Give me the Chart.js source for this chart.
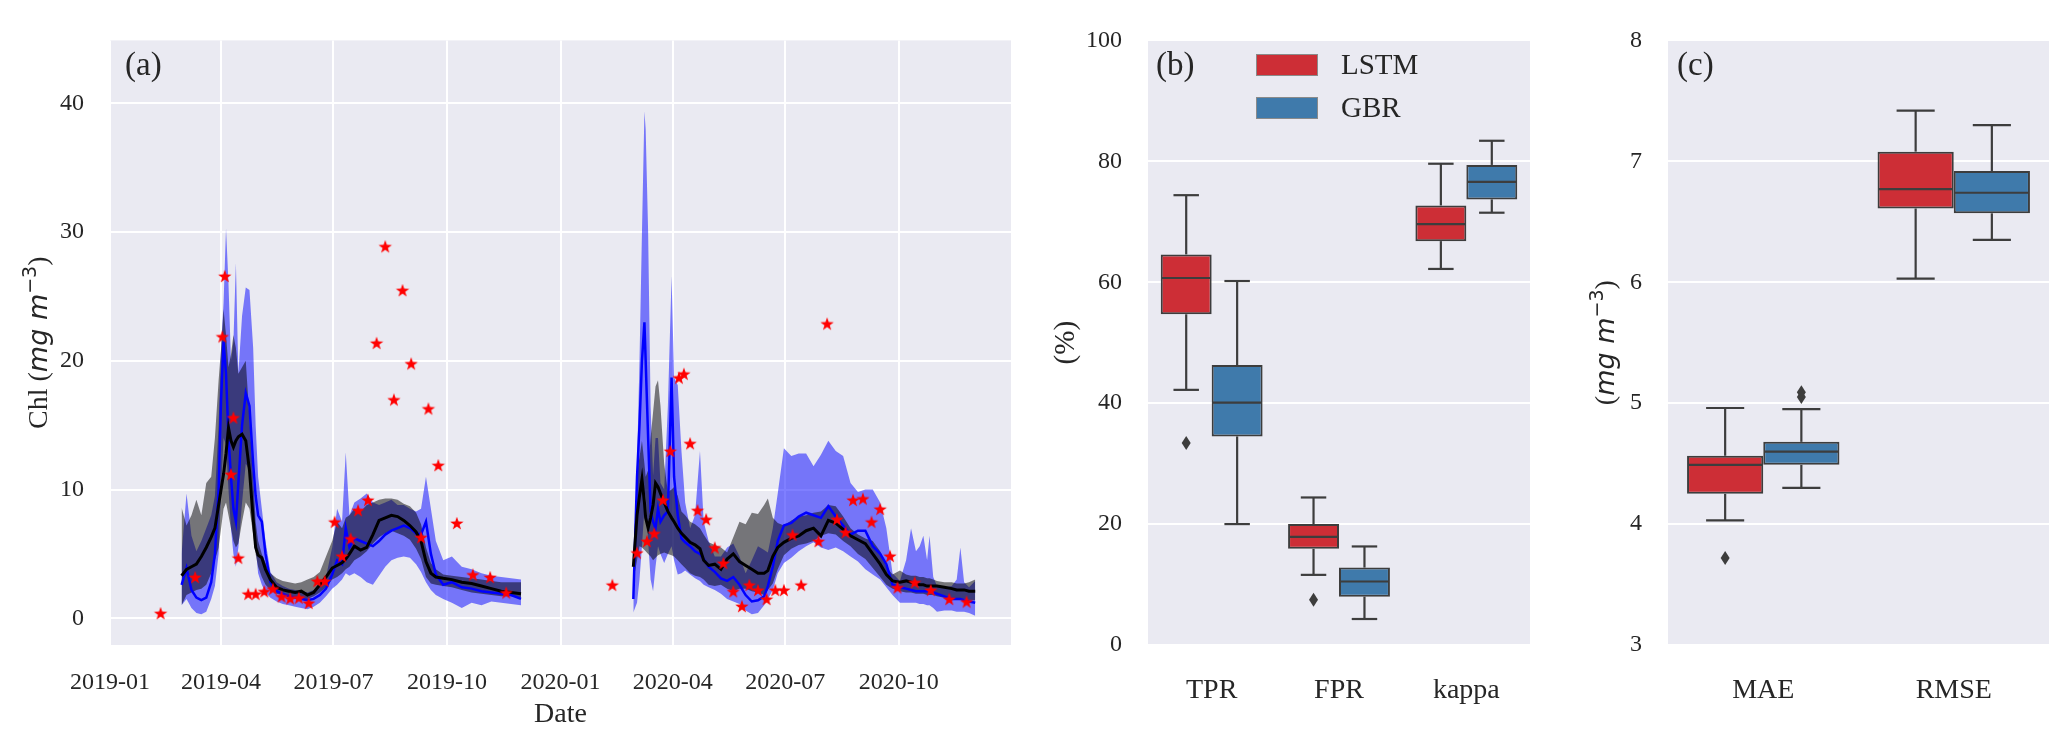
<!DOCTYPE html>
<html>
<head>
<meta charset="utf-8">
<script src="https://cdn.jsdelivr.net/npm/chart.js@4.4.1/dist/chart.umd.min.js"></script>
<style>
  html, body { margin: 0; padding: 0; background: #fff; }
  body { width: 2067px; height: 742px; position: relative; overflow: hidden; }
  canvas { position: absolute; top: 0; }
</style>
</head>
<body>
<canvas id="chl" width="1030" height="742" style="left:0"></canvas>
<canvas id="rate" width="515" height="742" style="left:1030px"></canvas>
<canvas id="err" width="522" height="742" style="left:1545px"></canvas>
<script>
// ---- panel (a): daily Chl, two seasons ----
const xTickLabels = ['2019-01', '2019-04', '2019-07', '2019-10', '2020-01', '2020-04', '2020-07', '2020-10'];
const chlTicks = [0, 10, 20, 30, 40];

const dates2019 = ['2019-02-28', '2019-03-04', '2019-03-08', '2019-03-12', '2019-03-16', '2019-03-20', '2019-03-24',
  '2019-03-27', '2019-03-30', '2019-04-01', '2019-04-03', '2019-04-05', '2019-04-07', '2019-04-09', '2019-04-11',
  '2019-04-13', '2019-04-15', '2019-04-18', '2019-04-21', '2019-04-24', '2019-04-27', '2019-04-29', '2019-05-01',
  '2019-05-04', '2019-05-07', '2019-05-11', '2019-05-16', '2019-05-21', '2019-05-26', '2019-05-31', '2019-06-05',
  '2019-06-10', '2019-06-15', '2019-06-20', '2019-06-25', '2019-06-30', '2019-07-04', '2019-07-08', '2019-07-11',
  '2019-07-14', '2019-07-18', '2019-07-23', '2019-07-28', '2019-08-02', '2019-08-07', '2019-08-12', '2019-08-17',
  '2019-08-22', '2019-08-27', '2019-09-01', '2019-09-06', '2019-09-10', '2019-09-14', '2019-09-18', '2019-09-22',
  '2019-09-28', '2019-10-05', '2019-10-13', '2019-10-21', '2019-10-29', '2019-11-06', '2019-11-14', '2019-11-22',
  '2019-11-30'];
const greyLo2019 = [1.0, 1.8, 2.0, 2.2, 2.3, 2.6, 3.5, 4.5, 5.5, 7.0, 8.5, 9.0, 8.0, 7.0, 6.0, 5.5, 5.8, 7.5, 9.0, 8.5,
  6.5, 5.0, 4.0, 3.2, 2.6, 2.2, 1.9, 1.8, 1.7, 1.6, 1.5, 1.5, 1.7, 2.0, 2.4, 3.0, 3.2, 3.5, 3.8, 4.0, 4.5, 4.8, 5.2,
  5.8, 6.3, 6.6, 6.8, 6.6, 6.4, 6.1, 5.4, 4.6, 3.2, 2.7, 2.6, 2.5, 2.4, 2.2, 2.0, 1.9, 1.8, 1.7, 1.7, 1.6];
const greyHi2019 = [8.6, 7.2, 8.0, 9.2, 8.0, 10.5, 11.0, 14.0, 18.5, 21.0, 24.0, 22.0, 19.5, 20.5, 22.0, 21.0, 19.0,
  19.5, 20.0, 15.5, 11.0, 7.5, 6.0, 5.0, 4.3, 3.5, 3.1, 2.9, 2.8, 2.7, 2.8, 3.0, 3.2, 3.6, 4.8, 6.0, 7.5, 7.0, 7.8,
  8.0, 8.5, 8.3, 8.8, 9.0, 9.2, 9.3, 9.3, 9.2, 8.9, 8.7, 8.2, 7.3, 5.5, 4.3, 3.8, 3.4, 3.3, 3.2, 3.1, 3.0, 2.9, 2.8,
  2.8, 2.8];
const blueLo2019 = [1.0, 1.5, 0.8, 0.4, 0.3, 0.5, 1.5, 2.5, 5.0, 10.0, 14.0, 13.5, 10.0, 7.0, 5.0, 4.0, 5.5, 9.0,
  12.0, 11.5, 8.5, 5.5, 3.5, 2.6, 2.0, 1.6, 1.3, 1.1, 1.0, 0.9, 0.8, 0.7, 0.9, 1.2, 1.7, 2.3, 2.6, 3.0, 3.5, 3.3, 3.5,
  3.2, 2.8, 2.6, 3.3, 4.0, 4.5, 4.7, 4.8, 4.7, 4.2, 3.6, 2.8, 2.2, 1.8, 1.5, 1.2, 0.8, 1.2, 1.0, 1.3, 1.2, 1.1, 1.0];
const blueHi2019 = [5.0, 9.7, 6.4, 5.2, 6.0, 7.0, 8.0, 9.5, 15.0, 21.0, 24.5, 30.3, 26.0, 20.0, 21.5, 27.6, 19.0,
  23.5, 25.7, 25.5, 21.0, 15.0, 11.0, 8.5, 6.0, 3.6, 2.8, 2.5, 2.3, 2.2, 2.1, 2.0, 2.2, 2.6, 3.2, 5.5, 8.5, 7.5, 12.9,
  8.0, 9.0, 9.3, 9.7, 9.0, 8.8, 9.0, 9.2, 8.8, 8.8, 8.5, 8.3, 8.5, 11.0, 8.5, 6.0, 4.5, 4.8, 4.0, 3.8, 3.5, 3.3, 3.2,
  3.1, 3.0];
const blueMean2019 = [2.6, 3.9, 2.2, 1.6, 1.4, 1.6, 2.8, 5.0, 10.0, 17.0, 21.5, 19.0, 14.0, 11.0, 8.5, 7.5, 10.5,
  15.0, 17.5, 16.5, 12.0, 9.5, 8.0, 7.5, 5.0, 2.8, 2.1, 1.9, 1.7, 1.6, 1.5, 1.4, 1.5, 1.8, 2.3, 3.4, 4.5, 4.2, 7.0,
  5.5, 6.2, 6.0, 5.8, 5.6, 6.0, 6.5, 6.8, 7.0, 7.2, 7.0, 6.6, 6.5, 7.5, 5.0, 3.4, 2.6, 2.8, 2.4, 2.3, 2.1, 2.0, 1.9,
  1.8, 1.5];
const blackMean2019 = [3.3, 3.8, 4.0, 4.2, 4.8, 5.5, 6.3, 7.0, 8.8, 10.0, 11.2, 12.8, 14.8, 13.8, 13.3, 13.8, 14.1,
  14.3, 13.8, 11.5, 7.7, 5.5, 4.9, 4.7, 3.8, 3.0, 2.4, 2.2, 2.1, 2.0, 2.1, 1.8, 2.0, 2.6, 3.2, 3.9, 4.1, 4.3, 4.6, 5.0,
  5.6, 5.3, 5.5, 6.5, 7.6, 7.8, 8.0, 7.9, 7.6, 7.2, 6.7, 6.0, 4.4, 3.5, 3.2, 3.1, 3.0, 2.8, 2.7, 2.5, 2.3, 2.1, 2.0,
  1.9];

const dates2020 = ['2020-02-29', '2020-03-03', '2020-03-05', '2020-03-07', '2020-03-09', '2020-03-10', '2020-03-12',
  '2020-03-14', '2020-03-16', '2020-03-18', '2020-03-20', '2020-03-22', '2020-03-25', '2020-03-28', '2020-03-31',
  '2020-04-02', '2020-04-05', '2020-04-08', '2020-04-11', '2020-04-15', '2020-04-19', '2020-04-23', '2020-04-26',
  '2020-04-30', '2020-05-05', '2020-05-10', '2020-05-15', '2020-05-20', '2020-05-25', '2020-05-30', '2020-06-04',
  '2020-06-09', '2020-06-14', '2020-06-17', '2020-06-21', '2020-06-25', '2020-06-30', '2020-07-06', '2020-07-12',
  '2020-07-18', '2020-07-24', '2020-07-30', '2020-08-05', '2020-08-11', '2020-08-17', '2020-08-23', '2020-08-29',
  '2020-09-04', '2020-09-10', '2020-09-16', '2020-09-21', '2020-09-26', '2020-10-02', '2020-10-07', '2020-10-11',
  '2020-10-15', '2020-10-18', '2020-10-21', '2020-10-24', '2020-10-26', '2020-10-29', '2020-11-01', '2020-11-07',
  '2020-11-13', '2020-11-17', '2020-11-20', '2020-11-23', '2020-11-27', '2020-12-02'];
const greyLo2020 = [2.9, 4.5, 5.6, 5.5, 5.3, 5.2, 5.0, 4.8, 4.5, 4.7, 4.9, 5.0, 5.1, 5.0, 4.9, 4.8, 4.5, 4.2, 3.9,
  3.5, 3.3, 3.2, 3.0, 2.6, 2.5, 2.6, 2.3, 2.1, 2.3, 2.3, 2.1, 2.0, 1.8, 2.2, 2.7, 3.8, 4.9, 5.4, 5.7, 5.8, 6.0, 6.4,
  6.6, 6.5, 6.0, 5.6, 5.0, 4.6, 3.9, 3.2, 2.6, 2.3, 2.1, 2.0, 2.0, 1.9, 1.9, 1.9, 1.8, 1.8, 1.8, 1.7, 1.6, 1.5, 1.5,
  1.5, 1.5, 1.4, 1.4];
const greyHi2020 = [4.8, 11.1, 12.5, 13.8, 12.0, 11.0, 11.5, 14.0, 16.0, 18.0, 18.5, 16.5, 12.0, 9.8, 10.0, 10.2, 9.5,
  8.3, 8.0, 7.5, 7.3, 7.0, 6.5, 5.9, 5.7, 5.5, 5.1, 6.3, 7.5, 7.3, 8.2, 8.1, 8.8, 9.3, 7.8, 7.4, 7.2, 7.6, 7.9, 8.0,
  8.2, 8.3, 8.8, 8.7, 7.9, 7.0, 6.5, 6.2, 6.0, 5.2, 4.0, 3.4, 3.7, 3.4, 3.3, 3.3, 3.2, 3.2, 3.1, 3.1, 3.0, 2.9, 2.8,
  2.8, 2.7, 2.7, 2.7, 2.8, 3.0];
const blueLo2020 = [0.45, 1.2, 3.0, 5.6, 8.5, 9.7, 6.0, 3.0, 2.1, 4.0, 5.6, 5.0, 4.3, 5.0, 5.6, 4.5, 3.4, 3.5, 3.7,
  3.4, 3.1, 2.9, 2.6, 2.4, 2.2, 1.9, 1.5, 1.3, 1.1, 0.6, 0.3, 0.4, 1.0, 1.5, 2.2, 3.5, 4.3, 4.7, 5.2, 5.6, 5.9, 5.5,
  5.3, 5.5, 5.2, 4.8, 4.4, 3.8, 3.4, 3.0, 2.4, 1.8, 1.2, 1.2, 1.2, 1.2, 1.1, 1.1, 1.0, 1.0, 0.8, 0.5, 0.6, 0.6, 0.5,
  0.5, 0.5, 0.4, 0.2];
const blueHi2020 = [3.0, 12.0, 20.0, 30.0, 39.4, 38.0, 30.0, 16.5, 11.1, 14.0, 14.0, 10.5, 10.0, 16.5, 26.6, 18.7,
  18.1, 13.0, 9.0, 7.0, 8.0, 13.0, 7.5, 6.0, 4.8, 4.8, 5.5, 5.8, 4.8, 3.5, 4.5, 5.6, 5.3, 5.1, 7.0, 9.7, 13.2, 12.6,
  12.8, 12.8, 11.8, 12.7, 13.8, 13.0, 12.6, 10.5, 9.8, 10.0, 10.0, 9.0, 7.0, 3.5, 2.9, 4.5, 7.0, 5.2, 5.6, 6.4, 4.5,
  6.4, 3.2, 2.5, 2.4, 2.5, 3.0, 5.5, 2.8, 2.4, 2.9];
const blueMean2020 = [1.5, 11.0, 15.0, 20.0, 23.0, 20.0, 14.0, 8.3, 7.5, 7.0, 8.5, 7.5, 8.0, 8.3, 18.7, 11.0, 8.0, 6.2,
  5.9, 5.6, 5.2, 5.0, 4.6, 4.0, 3.6, 3.1, 2.9, 3.2, 2.6, 1.8, 1.3, 1.4, 1.7, 2.5, 4.0, 6.0, 7.2, 7.4, 7.9, 8.2, 8.0,
  7.8, 8.7, 7.9, 7.2, 6.5, 6.8, 6.8, 5.6, 5.0, 4.2, 2.6, 2.4, 2.3, 2.2, 2.1, 2.1, 2.1, 2.1, 2.1, 2.0, 1.9, 1.7, 1.5,
  1.5, 1.5, 1.4, 1.3, 1.2];
const blackMean2020 = [4.0, 8.0, 9.5, 10.8, 9.0, 7.8, 7.0, 7.8, 8.8, 10.5, 10.2, 9.7, 9.0, 8.3, 7.8, 7.5, 7.0, 6.6,
  6.3, 5.9, 5.7, 5.4, 4.5, 4.1, 4.2, 3.8, 4.6, 5.0, 4.4, 4.1, 3.8, 3.5, 3.5, 3.7, 4.8, 5.5, 5.9, 6.2, 6.4, 6.8, 7.0,
  6.4, 7.6, 7.4, 6.9, 6.4, 6.1, 5.8, 5.0, 4.2, 3.4, 2.9, 2.8, 2.9, 2.8, 2.7, 2.6, 2.6, 2.5, 2.5, 2.5, 2.5, 2.4, 2.3,
  2.2, 2.2, 2.2, 2.1, 2.1];

const starDates = ['2019-02-11', '2019-03-11', '2019-04-02', '2019-04-04', '2019-04-09', '2019-04-11', '2019-04-15',
  '2019-04-23', '2019-04-29', '2019-05-06', '2019-05-13', '2019-05-20', '2019-05-27', '2019-06-03', '2019-06-11',
  '2019-06-18', '2019-06-24', '2019-07-02', '2019-07-08', '2019-07-15', '2019-07-21', '2019-07-29', '2019-08-05',
  '2019-08-12', '2019-08-19', '2019-08-26', '2019-09-02', '2019-09-10', '2019-09-16', '2019-09-24', '2019-10-09',
  '2019-10-22', '2019-11-05', '2019-11-18',
  '2020-02-12', '2020-03-03', '2020-03-11', '2020-03-17', '2020-03-24', '2020-03-30', '2020-04-06', '2020-04-10',
  '2020-04-15', '2020-04-21', '2020-04-28', '2020-05-05', '2020-05-12', '2020-05-20', '2020-05-27', '2020-06-02',
  '2020-06-09', '2020-06-16', '2020-06-23', '2020-06-30', '2020-07-07', '2020-07-14', '2020-07-28', '2020-08-04',
  '2020-08-12', '2020-08-19', '2020-08-25', '2020-09-02', '2020-09-09', '2020-09-16', '2020-09-24', '2020-09-30',
  '2020-10-14', '2020-10-27', '2020-11-11', '2020-11-25'];
const starValues = [0.4, 3.2, 21.9, 26.6, 11.2, 15.6, 4.7, 1.9, 1.9, 2.1, 2.3, 1.7, 1.55, 1.6, 1.2, 2.9, 2.9, 7.5, 4.85,
  6.2, 8.4, 9.2, 21.4, 28.9, 17.0, 25.5, 19.8, 6.3, 16.3, 11.9, 7.4, 3.4, 3.2, 2.0,
  2.6, 5.1, 6.0, 6.6, 9.2, 13.0, 18.7, 19.0, 13.6, 8.4, 7.7, 5.5, 4.3, 2.1, 0.95, 2.6, 2.2, 1.5, 2.2, 2.2, 6.5, 2.6,
  6.0, 22.9, 7.7, 6.7, 9.2, 9.3, 7.5, 8.5, 4.85, 2.4, 2.8, 2.2, 1.5, 1.3];

// ---- panels (b) and (c): box stats [low whisker, Q1, median, Q3, high whisker] ----
const rateCats = ['TPR', 'FPR', 'kappa'];
const lstmRate = [[42.2, 54.7, 60.7, 64.6, 74.4], [11.6, 15.9, 17.9, 20.0, 24.4], [62.2, 66.8, 69.6, 72.7, 79.6]];
const gbrRate = [[20.0, 34.5, 40.1, 46.3, 60.2], [4.3, 8.0, 10.5, 12.8, 16.3], [71.5, 73.7, 76.6, 79.4, 83.4]];
const lstmRateOut = [[33.4], [7.5], []];
const gbrRateOut = [[], [], []];

const errCats = ['MAE', 'RMSE'];
const lstmErr = [[4.03, 4.25, 4.49, 4.565, 4.96], [6.03, 6.61, 6.77, 7.08, 7.42]];
const gbrErr = [[4.30, 4.49, 4.60, 4.68, 4.95], [6.35, 6.57, 6.74, 6.92, 7.30]];
const lstmErrOut = [[3.72], []];
const gbrErrOut = [[5.05, 5.09], []];

const SERIF = '"Liberation Serif", "Times New Roman", serif';
const TXT = '#262626';
const EDGE = '#3d3d3d';
const RED = '#cd2e36';
const BLUE = '#3f7aab';
Chart.defaults.font.family = SERIF;
Chart.defaults.color = TXT;

// filled red star marker
const starImg = (() => {
  const c = document.createElement('canvas');
  c.width = 16; c.height = 16;
  const g = c.getContext('2d');
  g.fillStyle = '#ff0000';
  g.beginPath();
  for (let i = 0; i < 10; i++) {
    const r = i % 2 ? 2.8 : 7;
    const a = -Math.PI / 2 + i * Math.PI / 5;
    g.lineTo(8 + r * Math.cos(a), 8.8 + r * Math.sin(a));
  }
  g.closePath();
  g.fill();
  return c;
})();

const panelBg = {
  id: 'panelBg',
  beforeDraw(chart) {
    const { ctx, chartArea: a } = chart;
    ctx.save();
    ctx.fillStyle = '#eaeaf2';
    ctx.fillRect(a.left, a.top, a.right - a.left, a.bottom - a.top);
    ctx.restore();
  }
};

// panel tag, rotated y title (mixed fonts) and optional x title
const panelText = {
  id: 'panelText',
  afterDraw(chart, args, o) {
    const { ctx, chartArea: a } = chart;
    ctx.save();
    ctx.fillStyle = TXT;
    ctx.textBaseline = 'middle';
    ctx.font = '33px ' + SERIF;
    ctx.fillText(o.tag, a.left + o.tagDx, 66);
    if (o.xTitle) {
      ctx.textAlign = 'center';
      ctx.font = '28px ' + SERIF;
      ctx.fillText(o.xTitle, (a.left + a.right) / 2, 715);
    }
    ctx.textAlign = 'left';
    ctx.textBaseline = 'alphabetic';
    let total = 0;
    o.yTitle.forEach(p => { ctx.font = p.font; total += ctx.measureText(p.text).width; });
    ctx.translate(o.yTitleX, (a.top + a.bottom) / 2);
    ctx.rotate(-Math.PI / 2);
    let x = -total / 2;
    o.yTitle.forEach(p => {
      ctx.font = p.font;
      ctx.fillText(p.text, x, 10 + (p.dy || 0));
      x += ctx.measureText(p.text).width;
    });
    ctx.restore();
  }
};

// whiskers, medians, fliers for the floating-bar boxes + legend
const boxExtras = {
  id: 'boxExtras',
  afterDatasetsDraw(chart, args, o) {
    const { ctx } = chart;
    const ys = chart.scales.y;
    ctx.save();
    ctx.strokeStyle = EDGE;
    ctx.fillStyle = EDGE;
    ctx.lineWidth = 2.2;
    chart.data.datasets.forEach((ds, di) => {
      chart.getDatasetMeta(di).data.forEach((bar, i) => {
        const [lo, q1, med, q3, hi] = ds.stats[i];
        const { x, width } = bar.getProps(['x', 'width'], true);
        const seg = (x0, y0, x1, y1) => { ctx.beginPath(); ctx.moveTo(x0, y0); ctx.lineTo(x1, y1); ctx.stroke(); };
        seg(x, ys.getPixelForValue(q3), x, ys.getPixelForValue(hi));
        seg(x, ys.getPixelForValue(q1), x, ys.getPixelForValue(lo));
        seg(x - width / 4, ys.getPixelForValue(hi), x + width / 4, ys.getPixelForValue(hi));
        seg(x - width / 4, ys.getPixelForValue(lo), x + width / 4, ys.getPixelForValue(lo));
        seg(x - width / 2 + 1, ys.getPixelForValue(med), x + width / 2 - 1, ys.getPixelForValue(med));
        ds.fliers[i].forEach(v => {
          const py = ys.getPixelForValue(v);
          ctx.beginPath();
          ctx.moveTo(x, py - 7); ctx.lineTo(x + 4.5, py); ctx.lineTo(x, py + 7); ctx.lineTo(x - 4.5, py);
          ctx.closePath(); ctx.fill();
        });
      });
    });
    if (o.legend) {
      const a = chart.chartArea;
      ctx.lineWidth = 1;
      ctx.strokeStyle = '#8a8a8a';
      ctx.font = '29px ' + SERIF;
      ctx.textBaseline = 'middle';
      chart.data.datasets.forEach((ds, i) => {
        const top = 54 + i * 43;
        ctx.fillStyle = ds.backgroundColor;
        ctx.fillRect(a.left + 108, top, 62, 22);
        ctx.strokeRect(a.left + 108.5, top + 0.5, 61, 21);
        ctx.fillStyle = TXT;
        ctx.fillText(ds.label, a.left + 193, top + 12);
      });
    }
    ctx.restore();
  }
};

const whiteGrid = { color: '#ffffff', lineWidth: 2, drawTicks: false };

// ---- panel (a) ----
const toXY = (dates, vals) => dates.map((d, i) => ({ x: Date.parse(d), y: vals[i] }));
const hidden = { pointRadius: 0, borderWidth: 0, borderColor: 'rgba(0,0,0,0)', fill: false };

function seasonSets(dates, gLo, gHi, bLo, bHi, bMean, kMean) {
  return [
    { ...hidden, data: toXY(dates, bLo), order: 6 },
    { ...hidden, data: toXY(dates, bHi), order: 6, fill: '-1', backgroundColor: 'rgba(0,0,255,0.5)' },
    { ...hidden, data: toXY(dates, gLo), order: 5 },
    { ...hidden, data: toXY(dates, gHi), order: 5, fill: '-1', backgroundColor: 'rgba(0,0,0,0.5)' },
    { data: toXY(dates, bMean), order: 4, borderColor: '#0000ff', borderWidth: 2.5, pointRadius: 0, fill: false },
    { data: toXY(dates, kMean), order: 3, borderColor: '#000000', borderWidth: 3, pointRadius: 0, fill: false }
  ];
}

new Chart(document.getElementById('chl'), {
  type: 'line',
  data: {
    datasets: [
      ...seasonSets(dates2019, greyLo2019, greyHi2019, blueLo2019, blueHi2019, blueMean2019, blackMean2019),
      ...seasonSets(dates2020, greyLo2020, greyHi2020, blueLo2020, blueHi2020, blueMean2020, blackMean2020),
      { data: toXY(starDates, starValues), showLine: false, pointStyle: starImg, order: 1 }
    ]
  },
  options: {
    responsive: false,
    animation: false,
    layout: { padding: { top: 28, right: 19, left: 0, bottom: 0 } },
    plugins: {
      legend: { display: false },
      tooltip: { enabled: false },
      panelText: {
        tag: '(a)', tagDx: 15, xTitle: 'Date', yTitleX: 37,
        yTitle: [
          { text: 'Chl (', font: '28px ' + SERIF },
          { text: 'mg m', font: 'italic 27px "DejaVu Sans"' },
          { text: '\u22123', font: '19px "DejaVu Sans"', dy: -11 },
          { text: ')', font: '28px ' + SERIF }
        ]
      }
    },
    scales: {
      x: {
        type: 'linear',
        min: Date.parse('2019-01-01'),
        max: Date.parse('2020-12-31'),
        grid: whiteGrid,
        border: { display: false },
        afterBuildTicks: s => { s.ticks = xTickLabels.map(l => ({ value: Date.parse(l + '-01') })); },
        afterFit: s => { s.height = 97; },
        ticks: { callback: (v, i) => xTickLabels[i], font: { size: 24 }, padding: 23, maxRotation: 0, autoSkip: false }
      },
      y: {
        min: -2.08,
        max: 44.9,
        grid: whiteGrid,
        border: { display: false },
        afterBuildTicks: s => { s.ticks = chlTicks.map(v => ({ value: v })); },
        afterFit: s => { s.width = 110; },
        ticks: { font: { size: 24 }, padding: 26 }
      }
    }
  },
  plugins: [panelBg, panelText]
});

// ---- panels (b) and (c) ----
function boxSet(label, color, stats, fliers) {
  return {
    label, stats, fliers,
    data: stats.map(s => [s[1], s[3]]),
    backgroundColor: color,
    borderColor: EDGE,
    borderWidth: 2,
    borderSkipped: false,
    categoryPercentage: 0.8,
    barPercentage: 1.0
  };
}

function boxChart(id, cats, sets, yMin, yMax, step, yWidth, padRight, text, legend) {
  return new Chart(document.getElementById(id), {
    type: 'bar',
    data: { labels: cats, datasets: sets },
    options: {
      responsive: false,
      animation: false,
      layout: { padding: { top: 28, right: padRight, left: 0, bottom: 0 } },
      plugins: {
        legend: { display: false },
        tooltip: { enabled: false },
        panelText: text,
        boxExtras: { legend }
      },
      scales: {
        x: {
          grid: { display: false },
          border: { display: false },
          afterFit: s => { s.height = 97; },
          ticks: { font: { size: 28 }, padding: 21 }
        },
        y: {
          min: yMin,
          max: yMax,
          grid: whiteGrid,
          border: { display: false },
          afterFit: s => { s.width = yWidth; },
          ticks: { stepSize: step, font: { size: 24 }, padding: 26 }
        }
      }
    },
    plugins: [panelBg, boxExtras, panelText]
  });
}

boxChart('rate', rateCats,
  [boxSet('LSTM', RED, lstmRate, lstmRateOut), boxSet('GBR', BLUE, gbrRate, gbrRateOut)],
  0, 100, 20, 118, 15,
  { tag: '(b)', tagDx: 8, yTitleX: 34, yTitle: [{ text: '(%)', font: '29px ' + SERIF }] },
  true);

boxChart('err', errCats,
  [boxSet('LSTM', RED, lstmErr, lstmErrOut), boxSet('GBR', BLUE, gbrErr, gbrErrOut)],
  3, 8, 1, 123, 18,
  {
    tag: '(c)', tagDx: 9, yTitleX: 59,
    yTitle: [
      { text: '(', font: '28px ' + SERIF },
      { text: 'mg m', font: 'italic 27px "DejaVu Sans"' },
      { text: '\u22123', font: '19px "DejaVu Sans"', dy: -11 },
      { text: ')', font: '28px ' + SERIF }
    ]
  },
  false);
</script>
</body>
</html>
